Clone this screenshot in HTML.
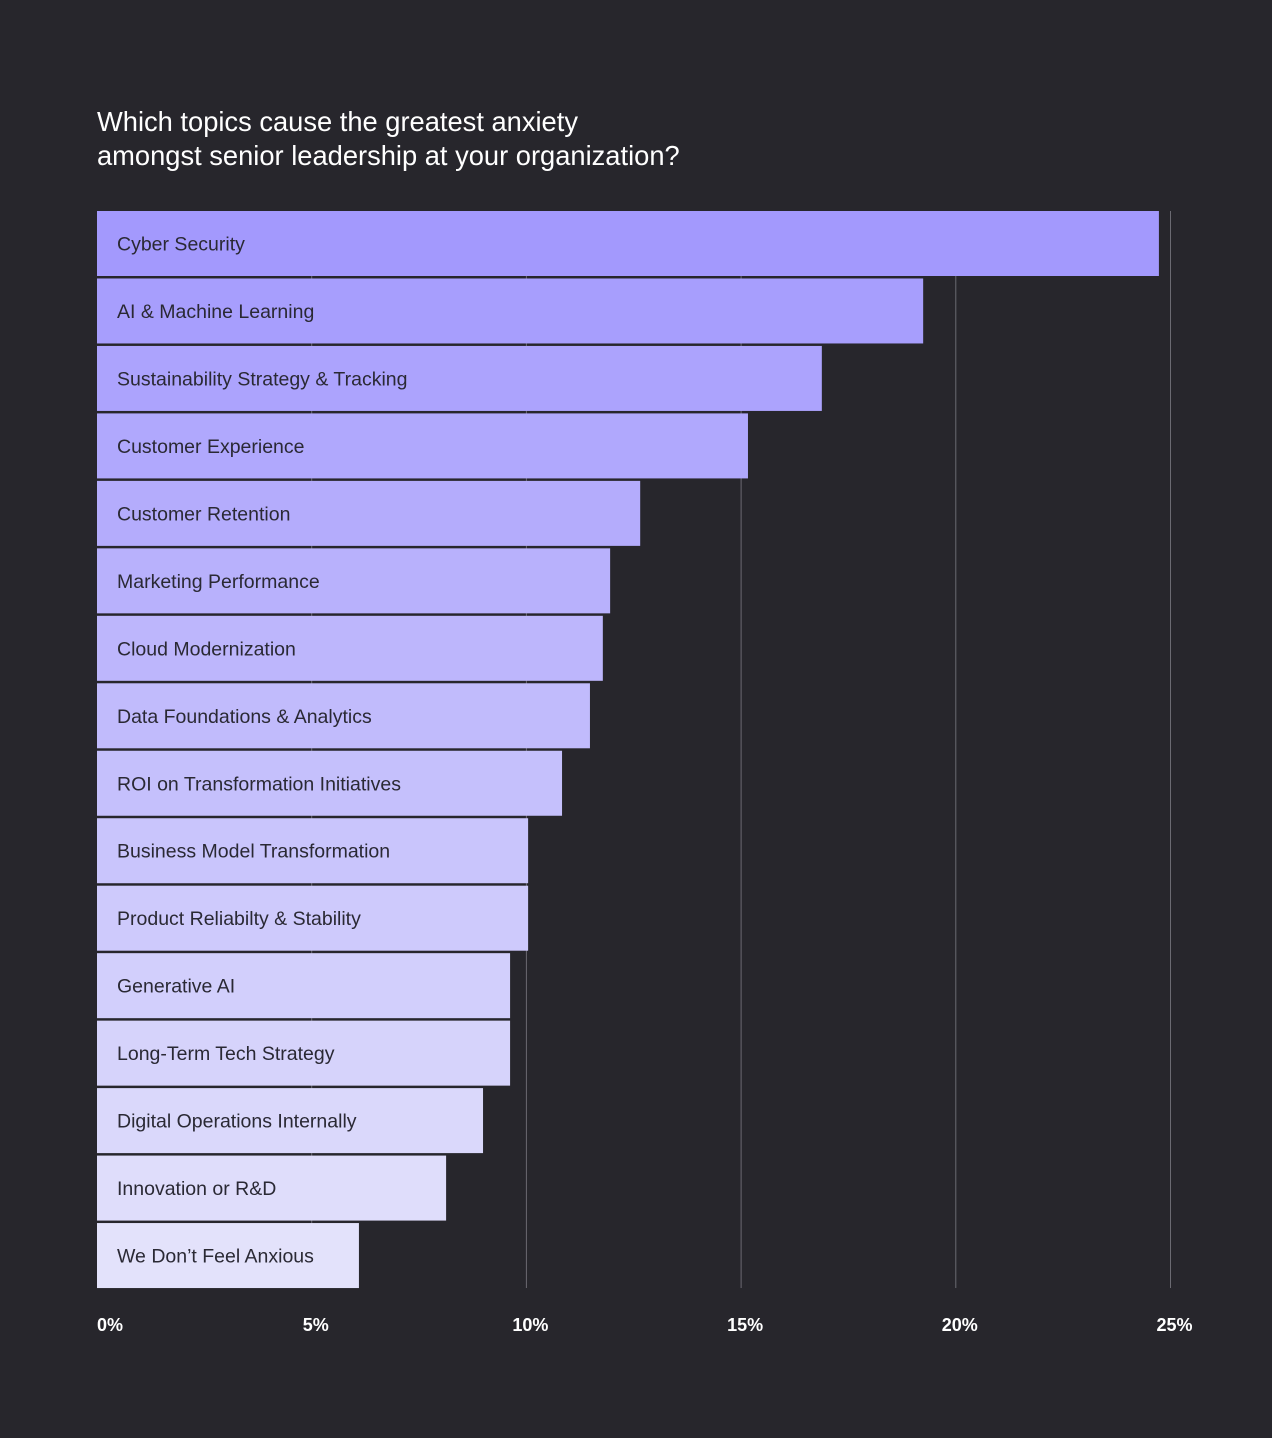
<!DOCTYPE html>
<html><head><meta charset="utf-8"><style>
html,body{margin:0;background:#27262c;width:1272px;height:1438px;overflow:hidden;font-family:"Liberation Sans",sans-serif}
svg{display:block}
</style></head><body>
<svg id="chart" width="1272" height="1438" xmlns="http://www.w3.org/2000/svg">
<rect width="1272" height="1438" fill="#27262c"/>
<text x="97" y="131" fill="#ffffff" font-size="27.3">Which topics cause the greatest anxiety</text>
<text x="97" y="165" fill="#ffffff" font-size="27.3">amongst senior leadership at your organization?</text>
<g id="grid"></g><g id="bars"></g><g id="ticks"></g>
</svg>
<script>
const categories=["Cyber Security","AI & Machine Learning","Sustainability Strategy & Tracking","Customer Experience","Customer Retention","Marketing Performance","Cloud Modernization","Data Foundations & Analytics","ROI on Transformation Initiatives","Business Model Transformation","Product Reliabilty & Stability","Generative AI","Long-Term Tech Strategy","Digital Operations Internally","Innovation or R&D","We Don’t Feel Anxious"];
const values=[24.73,19.24,16.88,15.16,12.65,11.95,11.78,11.48,10.83,10.04,10.04,9.62,9.62,8.99,8.13,6.10];
const tickValues=[0,5,10,15,20,25];
const tickLabels=["0%","5%","10%","15%","20%","25%"];
const NS="http://www.w3.org/2000/svg";
const x0=97,pxPer=42.94,top0=211,pitch=67.47,bh=65;
const xs=v=>x0+v*pxPer;
const ys=i=>top0+i*pitch;
const grid=document.getElementById('grid'),bars=document.getElementById('bars'),ticks=document.getElementById('ticks');
const bottom=ys(categories.length-1)+bh;
tickValues.forEach((t,i)=>{
  if(t>0){const l=document.createElementNS(NS,'line');
  
  
  l.setAttribute('x1',xs(t));l.setAttribute('x2',xs(t));l.setAttribute('y1',top0);l.setAttribute('y2',bottom);
  l.setAttribute('stroke','#6b6a72');l.setAttribute('stroke-width','1');grid.appendChild(l);}
  const tx=document.createElementNS(NS,'text');
  
  
  tx.setAttribute('x',t===0?x0:xs(t)+4);tx.setAttribute('y',1331);
  tx.setAttribute('text-anchor',t===0?'start':'middle');
  tx.setAttribute('fill','#ffffff');tx.setAttribute('font-size','18');tx.setAttribute('font-weight','bold');
  tx.textContent=tickLabels[i];ticks.appendChild(tx);
});
const c1=[163,153,253],c2=[227,226,251];
categories.forEach((c,i)=>{
  const f=i/(categories.length-1);
  const col='rgb('+c1.map((a,k)=>Math.round(a+(c2[k]-a)*f)).join(',')+')';
  const r=document.createElementNS(NS,'rect');
  
  
  r.setAttribute('x',x0);r.setAttribute('y',ys(i));r.setAttribute('width',xs(values[i])-x0);r.setAttribute('height',bh);
  r.setAttribute('fill',col);bars.appendChild(r);
  const t=document.createElementNS(NS,'text');
  
  
  t.setAttribute('x',117);t.setAttribute('y',ys(i)+bh/2+7);
  t.setAttribute('fill','#2a2934');t.setAttribute('font-size','19.5');
  t.textContent=c;bars.appendChild(t);
});
</script>
</body></html>
